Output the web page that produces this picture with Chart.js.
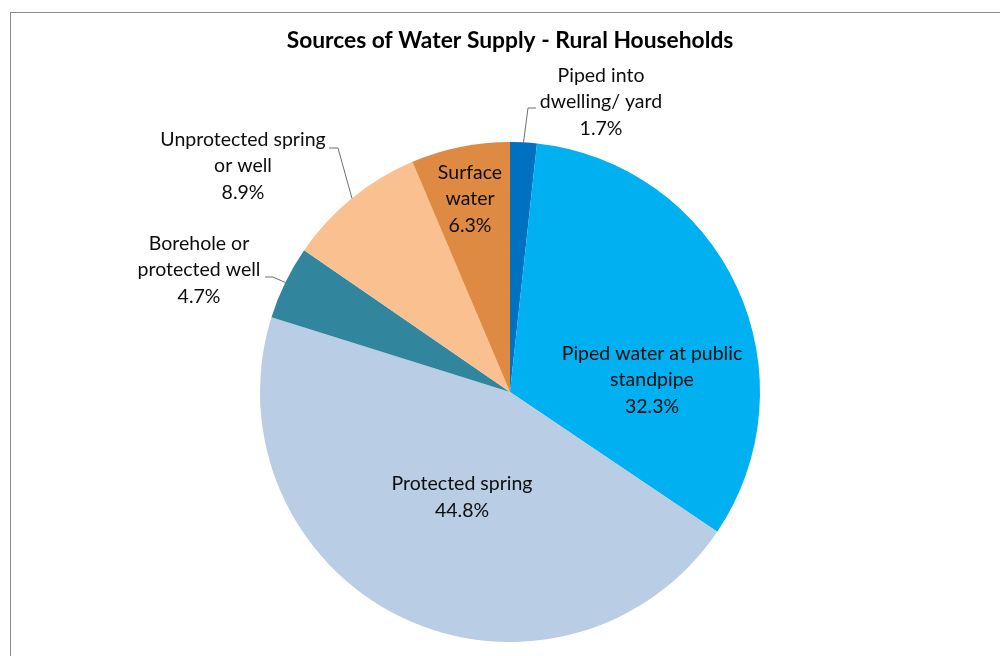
<!DOCTYPE html>
<html>
<head>
<meta charset="utf-8">
<script src="https://cdn.jsdelivr.net/npm/chart.js@4.4.1/dist/chart.umd.min.js"></script>
<style>
  html, body { margin: 0; padding: 0; background: #fff; overflow: hidden; }
  #wrap { position: relative; width: 1000px; height: 656px; }
  #frame { position: absolute; left: 10px; top: 12px; width: 1200px; height: 1000px; border: 1px solid #8a8a8a; box-sizing: border-box; }
  #chart { position: absolute; left: 0; top: 0; }
</style>
</head>
<body>
<div id="wrap">
  <div id="frame"></div>
  <canvas id="chart" width="1000" height="656"></canvas>
</div>
<script>
// data
const chartTitle = 'Sources of Water Supply - Rural Households';
const categories = [
    ['Piped into', 'dwelling/ yard'],
    ['Piped water at public', 'standpipe'],
    ['Protected spring'],
    ['Borehole or', 'protected well'],
    ['Unprotected spring', 'or well'],
    ['Surface', 'water']
];
const shares = [1.7, 32.3, 44.8, 4.7, 8.9, 6.3];
const sliceColors = ['#0070C0', '#00B0F0', '#B9CDE5', '#31859C', '#FAC090', '#DF8A42'];

// where each label sits, relative to the pie centre (px)
const labelSpots = [
    { dx: 91, dy: -290, elbow: [18, -284], end: [26, -284] },
    { dx: 142, dy: -12 },
    { dx: -48, dy: 105 },
    { dx: -311, dy: -122, elbow: [-237, -115], end: [-245, -115] },
    { dx: -267, dy: -226, elbow: [-172, -244], end: [-181, -244] },
    { dx: -40, dy: -193 }
];

const LABEL_FONT = '19.5px Lato';
const LINE_H = 26.5;

const pieLabels = {
    id: 'pieLabels',
    afterDatasetsDraw(chart) {
        const ctx = chart.ctx;
        const meta = chart.getDatasetMeta(0);
        ctx.save();
        meta.data.forEach((arc, i) => {
            const spot = labelSpots[i];
            const cx = arc.x, cy = arc.y;

            // leader line from the slice's outer edge
            if (spot.elbow) {
                const mid = (arc.startAngle + arc.endAngle) / 2;
                const sx = cx + arc.outerRadius * Math.cos(mid);
                const sy = cy + arc.outerRadius * Math.sin(mid);
                ctx.beginPath();
                ctx.moveTo(sx, sy);
                ctx.lineTo(cx + spot.elbow[0], cy + spot.elbow[1]);
                ctx.lineTo(cx + spot.end[0], cy + spot.end[1]);
                ctx.strokeStyle = '#6f6f6f';
                ctx.lineWidth = 1;
                ctx.stroke();
            }

            const lines = categories[i].concat([shares[i].toFixed(1) + '%']);
            const tx = cx + spot.dx;
            const ty = cy + spot.dy - (lines.length - 1) * LINE_H / 2;
            ctx.font = LABEL_FONT;
            ctx.fillStyle = '#0d0d0d';
            ctx.textAlign = 'center';
            ctx.textBaseline = 'middle';
            lines.forEach((t, k) => ctx.fillText(t, tx, ty + k * LINE_H));
        });
        ctx.restore();
    }
};

window.onload = () => {
    const ctx = document.getElementById('chart').getContext('2d');
    new Chart(ctx, {
        type: 'pie',
        data: {
            labels: categories,
            datasets: [{
                data: shares,
                backgroundColor: sliceColors,
                borderWidth: 0
            }]
        },
        options: {
            responsive: false,
            animation: false,
            layout: { padding: { left: 20, right: 0, top: 0, bottom: 14 } },
            plugins: {
                legend: { display: false },
                tooltip: { enabled: false },
                title: {
                    display: true,
                    text: chartTitle,
                    color: '#000',
                    font: { family: 'Lato', size: 22.8, weight: 'bold', lineHeight: 1.2 },
                    padding: { top: 26.6, bottom: 88.04 }
                }
            }
        },
        plugins: [pieLabels]
    });
};
</script>
</body>
</html>
